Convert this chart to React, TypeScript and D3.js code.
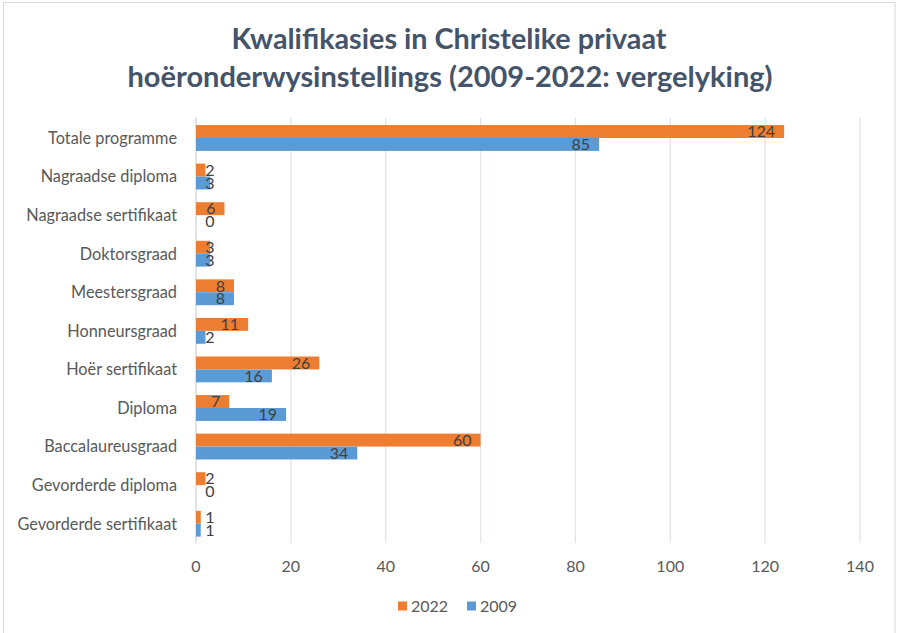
import * as d3 from "d3";

const categories = [
  "Totale programme",
  "Nagraadse diploma",
  "Nagraadse sertifikaat",
  "Doktorsgraad",
  "Meestersgraad",
  "Honneursgraad",
  "Hoër sertifikaat",
  "Diploma",
  "Baccalaureusgraad",
  "Gevorderde diploma",
  "Gevorderde sertifikaat",
];
const values2022 = [124, 2, 6, 3, 8, 11, 26, 7, 60, 2, 1];
const values2009 = [85, 3, 0, 3, 8, 2, 16, 19, 34, 0, 1];
const seriesNames = ["2022", "2009"];
const seriesColors = ["#ED7D31", "#5B9BD5"];
const xTicks = [0, 20, 40, 60, 80, 100, 120, 140];
const titleLines = [
  "Kwalifikasies in Christelike privaat",
  "hoëronderwysinstellings (2009-2022: vergelyking)",
];

const W = 897;
const H = 633;
const FONT = "Lato, 'Open Sans', sans-serif";

export default function App() {
  const x = d3.scaleLinear().domain([0, 140]).range([196, 860]);
  const y = d3
    .scaleBand<string>()
    .domain(categories)
    .range([118.7, 543])
    .paddingInner(0.33)
    .paddingOuter(0.165);
  const ySub = d3.scaleBand<string>().domain(seriesNames).range([0, y.bandwidth()]);
  const series = [values2022, values2009];

  // label end position: inside end, spills out when bar is short
  const labelEnd = (v: number) => {
    const w = String(v).length * 8.6;
    return Math.max(x(v) - 9, x(0) + 10 + w);
  };

  return (
    <>
      <style>{`body{margin:0}`}</style>
      <svg width={W} height={H} style={{ display: "block", fontFamily: FONT }}>
        <rect x={0} y={0} width={W} height={H} fill="#fff" />
        <rect x={3.5} y={2.5} width={891.5} height={H} fill="none" stroke="#D9D9D9" />

        {/* title */}
        <text x={449} y={49} textAnchor="middle" fontSize={29} fontWeight={700} fill="#44546A"
          textLength={435} lengthAdjust="spacingAndGlyphs">
          {titleLines[0]}
        </text>
        <text x={450} y={87} textAnchor="middle" fontSize={29} fontWeight={700} fill="#44546A"
          textLength={645} lengthAdjust="spacingAndGlyphs">
          {titleLines[1]}
        </text>

        {/* gridlines */}
        {xTicks.map((t) => (
          <line key={t} x1={x(t)} x2={x(t)} y1={117.5} y2={543} stroke={t === 0 ? "#D0D4DC" : "#E1E4EA"} strokeWidth={1.3} />
        ))}

        {/* bars */}
        {categories.map((c, i) =>
          series.map((vals, s) => {
            const v = vals[i];
            const yy = (y(c) ?? 0) + (ySub(seriesNames[s]) ?? 0);
            const bh = ySub.bandwidth();
            return (
              <g key={c + s}>
                <rect x={x(0)} y={yy} width={x(v) - x(0)} height={bh} fill={seriesColors[s]} />
                <text x={labelEnd(v)} y={yy + bh / 2} dy="0.36em" textAnchor="end" fontSize={16} fill="#404040">
                  {v}
                </text>
              </g>
            );
          })
        )}

        {/* category labels */}
        {categories.map((c) => (
          <text key={c} x={177} y={(y(c) ?? 0) + y.bandwidth() / 2} dy="0.36em" textAnchor="end" fontSize={16.3} fill="#595959">
            {c}
          </text>
        ))}

        {/* x tick labels */}
        {xTicks.map((t) => (
          <text key={t} x={x(t)} y={566} dy="0.36em" textAnchor="middle" fontSize={16} fill="#595959">
            {t}
          </text>
        ))}

        {/* legend */}
        {seriesNames.map((n, i) => {
          const lx = 398 + i * 69;
          return (
            <g key={n}>
              <rect x={lx} y={601.5} width={9} height={9} fill={seriesColors[i]} />
              <text x={lx + 13} y={606} dy="0.36em" fontSize={16} fill="#595959">
                {n}
              </text>
            </g>
          );
        })}
      </svg>
    </>
  );
}
